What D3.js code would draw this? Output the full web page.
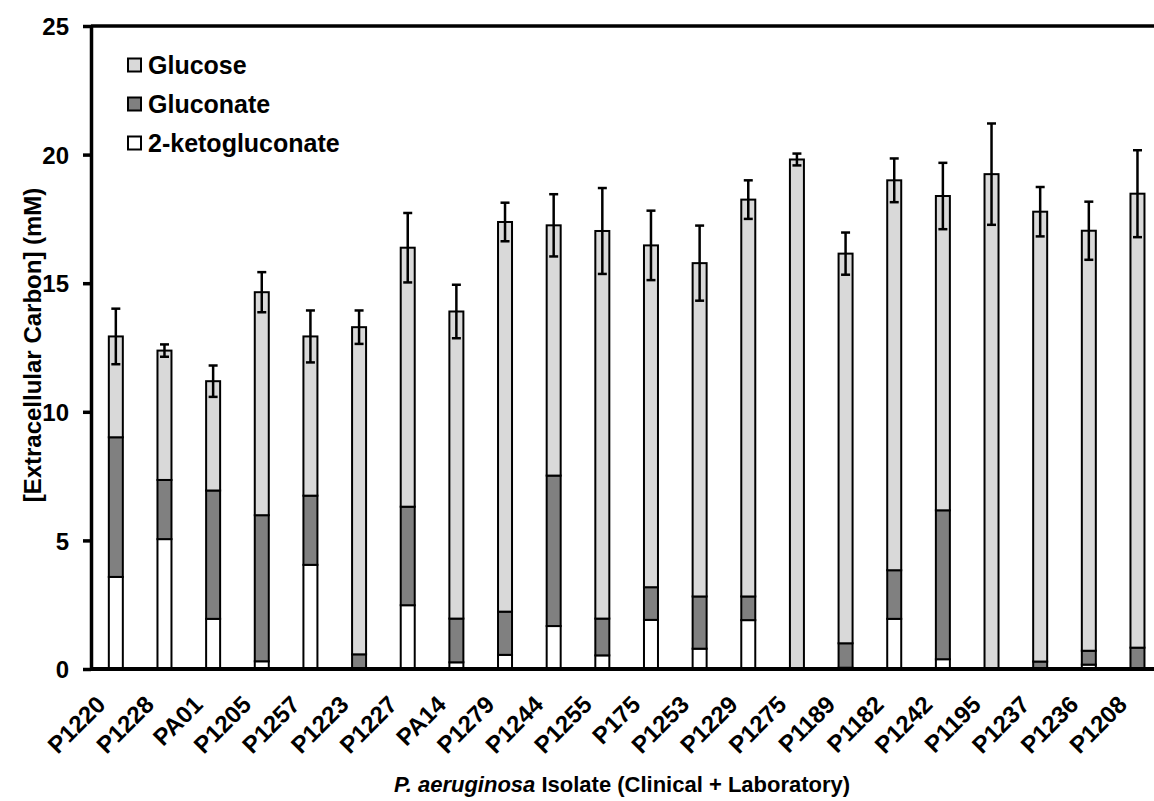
<!DOCTYPE html>
<html>
<head>
<meta charset="utf-8">
<script src="https://cdn.jsdelivr.net/npm/d3@7"></script>
<style>
  html, body { margin: 0; padding: 0; background: #fff; }
  svg { display: block; font-family: "Liberation Sans", Arial, sans-serif; font-weight: bold; }
</style>
</head>
<body>
<svg id="chart" width="1154" height="801"></svg>
<script>
// ---- data ----
const isolates = ["P1220","P1228","PA01","P1205","P1257","P1223","P1227","PA14","P1279","P1244","P1255","P175","P1253","P1229","P1275","P1189","P1182","P1242","P1195","P1237","P1236","P1208"];
const ketogluconate = [3.58,5.05,1.95,0.30,4.05,0,2.48,0.26,0.55,1.67,0.53,1.91,0.79,1.90,0,0.05,1.95,0.38,0,0,0.17,0];
const gluconate = [5.43,2.30,4.99,5.68,2.69,0.57,3.83,1.70,1.68,5.85,1.43,1.27,2.03,0.92,0,0.95,1.89,5.79,0,0.29,0.54,0.83];
const glucose = [3.92,5.03,4.25,8.67,6.19,12.72,10.07,11.94,15.15,9.73,15.07,13.29,12.96,15.43,19.81,15.15,15.16,12.22,19.24,17.49,16.33,17.65];
const totalError = [1.08,0.24,0.61,0.78,1.01,0.65,1.35,1.04,0.75,1.21,1.67,1.35,1.46,0.75,0.23,0.82,0.85,1.29,1.97,0.96,1.13,1.69];
const yTicks = [0,5,10,15,20,25];
const seriesNames = ["Glucose","Gluconate","2-ketogluconate"];
const seriesColors = {"Glucose":"#d9d9d9","Gluconate":"#808080","2-ketogluconate":"#ffffff"};

// ---- build table ----
const rows = isolates.map((name,i)=>({name, "2-ketogluconate":ketogluconate[i], "Gluconate":gluconate[i], "Glucose":glucose[i], err: totalError[i]}));
const stackKeys = ["2-ketogluconate","Gluconate","Glucose"];
const stacked = d3.stack().keys(stackKeys)(rows);

const svg = d3.select("#chart");
const plotLeft = 91, plotBottom = 669, plotTop = 26;
const x = d3.scaleBand().domain(isolates).range([91.5, 1161.8]).padding(0);
const y = d3.scaleLinear().domain([0,25]).range([plotBottom, plotTop]);
const barW = 14;

// bars
stacked.forEach(layer => {
  svg.append("g").selectAll("rect")
    .data(layer.filter(d => d[1]-d[0] > 0.001))
    .join("rect")
    .attr("x", d => x(d.data.name) + x.bandwidth()/2 - barW/2)
    .attr("width", barW)
    .attr("y", d => y(d[1]))
    .attr("height", d => y(d[0]) - y(d[1]))
    .attr("fill", seriesColors[layer.key])
    .attr("stroke", "#000")
    .attr("stroke-width", 2);
});

// error bars
const eg = svg.append("g").attr("stroke","#000").attr("stroke-width",2.5);
rows.forEach(r => {
  const tot = r["2-ketogluconate"] + r["Gluconate"] + r["Glucose"];
  const cx = x(r.name) + x.bandwidth()/2;
  eg.append("line").attr("x1",cx).attr("x2",cx).attr("y1",y(tot+r.err)).attr("y2",y(tot-r.err));
  eg.append("line").attr("x1",cx-4.5).attr("x2",cx+4.5).attr("y1",y(tot+r.err)).attr("y2",y(tot+r.err));
  eg.append("line").attr("x1",cx-4.5).attr("x2",cx+4.5).attr("y1",y(tot-r.err)).attr("y2",y(tot-r.err));
});

// top frame line
svg.append("line").attr("x1",plotLeft).attr("x2",1154).attr("y1",y(25)).attr("y2",y(25))
  .attr("stroke","#000").attr("stroke-width",3.5);

// x axis
const xAxis = svg.append("g").attr("transform",`translate(0,${plotBottom})`)
  .call(d3.axisBottom(x).tickSize(0).tickPadding(0));
xAxis.select(".domain").attr("d", `M${plotLeft},0H1154`).attr("stroke","#000").attr("stroke-width",4);
xAxis.selectAll(".tick text")
  .attr("font-size", 24).attr("font-weight","bold").attr("fill","#000")
  .attr("font-family", "'Liberation Sans', Arial, sans-serif")
  .attr("text-anchor","end")
  .attr("dy", null).attr("y", 0)
  .attr("transform", "translate(-9,37) rotate(-45)");

// y axis
const yAxis = svg.append("g").attr("transform",`translate(${plotLeft},0)`)
  .call(d3.axisLeft(y).tickValues(yTicks).tickSize(8).tickPadding(14).tickSizeOuter(0));
yAxis.select(".domain").attr("stroke","#000").attr("stroke-width",3.5);
yAxis.selectAll(".tick line").attr("stroke","#000").attr("stroke-width",3.5);
yAxis.selectAll(".tick text").attr("font-size",24).attr("font-weight","bold").attr("fill","#000")
  .attr("font-family", "'Liberation Sans', Arial, sans-serif").attr("dy","0.36em");

// y title
svg.append("text").attr("transform","translate(41,345) rotate(-90)")
  .attr("text-anchor","middle").attr("font-size",24).attr("font-weight","bold")
  .text("[Extracellular Carbon] (mM)");

// x title
const xt = svg.append("text").attr("x", 622).attr("y", 792).attr("text-anchor","middle")
  .attr("font-size",22).attr("font-weight","bold");
xt.append("tspan").attr("font-style","italic").text("P. aeruginosa");
xt.append("tspan").text(" Isolate (Clinical + Laboratory)");

// legend
const lg = svg.append("g");
seriesNames.forEach((s,i) => {
  const cy = 65 + i*39;
  lg.append("rect").attr("x",128).attr("y",cy-6.5).attr("width",13).attr("height",13)
    .attr("fill",seriesColors[s]).attr("stroke","#000").attr("stroke-width",2);
  lg.append("text").attr("x",148).attr("y",cy+9).attr("font-size",25).attr("font-weight","bold").text(s);
});
</script>
</body>
</html>
